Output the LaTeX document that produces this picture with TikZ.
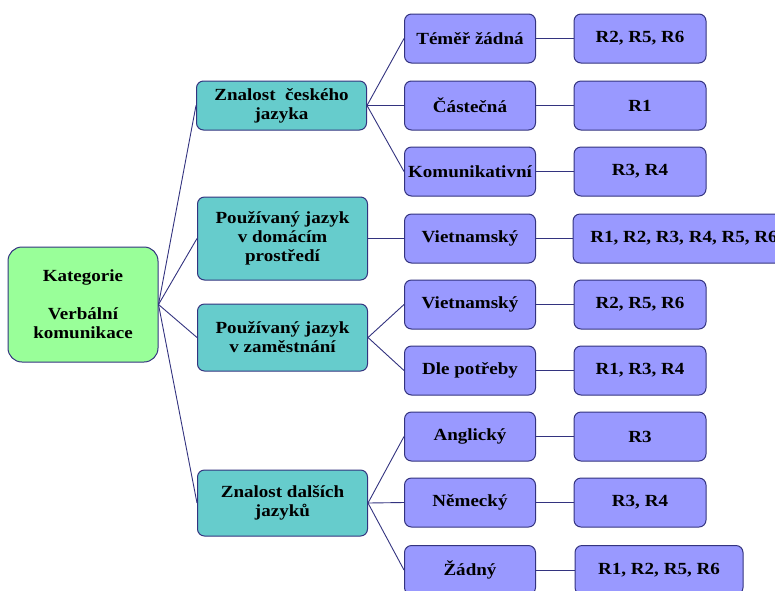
\documentclass[tikz,border=0pt]{standalone}
\usepackage{fontspec}
\setmainfont{Liberation Serif}[FakeStretch=1.12]
\usetikzlibrary{positioning}

\definecolor{rootfill}{HTML}{99FF99}
\definecolor{catfill}{HTML}{66CCCC}
\definecolor{valfill}{HTML}{9999FF}
\definecolor{edgeblue}{HTML}{33337F}

\tikzset{
	box/.style={draw=edgeblue, line width=1pt, rounded corners=7pt, align=center,
		inner sep=0pt, font=\fontsize{17}{19}\selectfont\bfseries},
	rootbox/.style={box, fill=rootfill, rounded corners=14pt,
		minimum width=150pt, minimum height=115pt},
	catbox/.style={box, fill=catfill, minimum width=170pt},
	valbox/.style={box, fill=valfill, minimum height=49pt},
	link/.style={draw=edgeblue, line width=0.9pt}
}

\begin{document}
\begin{tikzpicture}[x=1pt,y=-1pt]
				\useasboundingbox (0,0) rectangle (775,590);

				\node[rootbox] (root) at (83,304.5)
				{Kategorie\\[19pt]Verbální\\komunikace};

				\node[catbox, minimum height=49pt] (c2x1) at (281.5,105.5)
				{Znalost \ českého\\jazyka};
				\node[catbox, minimum height=83pt] (c2x2) at (282.5,238.5)
				{Používaný jazyk\\v domácím\\prostředí};
				\node[catbox, minimum height=67pt] (c2x3) at (282.5,337.5)
				{Používaný jazyk\\v zaměstnání};
				\node[catbox, minimum height=66pt] (c2x4) at (282.5,503)
				{Znalost dalších\\jazyků};

				\foreach \y/\xtext/\t in {38.5/1/Téměř žádná,105.5/2/Částečná,
					171.5/3/Komunikativní,238.5/4/Vietnamský,304.5/5/Vietnamský,
					370.5/6/Dle potřeby,436.5/7/Anglický,502.5/8/Německý,570/9/Žádný}
				{
					\node[valbox, minimum width=131pt] (c3x\xtext) at (470,\y) {\t};
				}

				\foreach \y/\x/\w/\xtext/\t in {38.5/640/132/1/{R2, R5, R6},
					105.5/640/132/2/{R1},171.5/640/132/3/{R3, R4},
					238.5/684/222/4/{R1, R2, R3, R4, R5, R6},
					304.5/640/132/5/{R2, R5, R6},370.5/640/132/6/{R1, R3, R4},
					436.5/640/132/7/{R3},502.5/640/132/8/{R3, R4},
					570/659/168/9/{R1, R2, R5, R6}}
				{
					\node[valbox, minimum width=\w pt] (c4x\xtext) at (\x,\y) {\t};
					\draw[link] (c3x\xtext) -- (c4x\xtext);
				}

				\foreach \i in {1,2,3,4}
				\draw[link] (root.east) -- (c2x\i.west);

				\foreach \j in {1,2,3}
				\draw[link] (c2x1.east) -- (c3x\j.west);
				\draw[link] (c2x2.east) -- (c3x4.west);
				\foreach \j in {5,6}
				\draw[link] (c2x3.east) -- (c3x\j.west);
				\foreach \j in {7,8,9}
				\draw[link] (c2x4.east) -- (c3x\j.west);
			\end{tikzpicture}
\end{document}
